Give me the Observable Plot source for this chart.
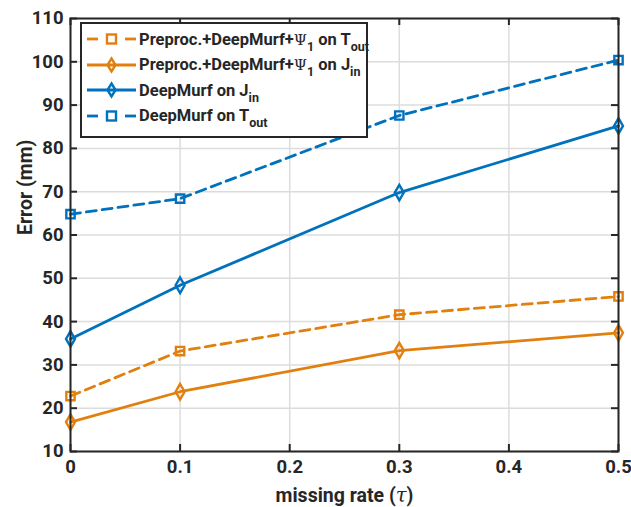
<!DOCTYPE html>
<html>
<head>
<meta charset="utf-8">
<script src="https://cdn.jsdelivr.net/npm/d3@7"></script>
<script src="https://cdn.jsdelivr.net/npm/@observablehq/plot@0.6"></script>
<style>
  html, body { margin: 0; padding: 0; background: #fff; }
  #wrap { position: relative; width: 631px; height: 507px; font-family: Roboto, "Liberation Sans", sans-serif; font-weight: 700; color: #262626; }
  #legend { position: absolute; left: 80px; top: 22px; width: 284px; height: 112px; border: 2px solid #262626; background: #fff; box-sizing: content-box; }
  .row { position: absolute; left: 3px; height: 24px; display: flex; align-items: center; font-size: 16.5px; white-space: nowrap; }
  .row svg { margin-right: 1px; }
  sub { font-size: 12.5px; vertical-align: -6px; line-height: 0; }
  .psi { font-weight: 400; font-family: "DejaVu Serif", serif; font-size: 15px; }
</style>
</head>
<body>
<div id="wrap"><div id="chart"></div><div id="legend"></div></div>
<script>
const rates = [0, 0.1, 0.3, 0.5];
const preprocTout = [22.8, 33.2, 41.6, 45.8];
const preprocJin = [16.8, 23.8, 33.3, 37.4];
const deepJin = [36.0, 48.4, 69.8, 85.2];
const deepTout = [64.8, 68.4, 87.6, 100.4];
const xTicks = [0, 0.1, 0.2, 0.3, 0.4, 0.5];
const xTickLabels = ["0", "0.1", "0.2", "0.3", "0.4", "0.5"];
const yTicks = [10, 20, 30, 40, 50, 60, 70, 80, 90, 100, 110];
const xLabel = "missing rate (τ)";
const yLabel = "Error (mm)";

const orange = "#E2800F";
const blue = "#0072BD";
const series = [
  {name: "preprocTout", values: preprocTout, color: orange, dash: "10,6", symbol: "square"},
  {name: "preprocJin", values: preprocJin, color: orange, dash: null, symbol: "diamond"},
  {name: "deepJin", values: deepJin, color: blue, dash: null, symbol: "diamond"},
  {name: "deepTout", values: deepTout, color: blue, dash: "10,6", symbol: "square"}
];

const dark = "#262626";
const font = "Roboto, 'Liberation Sans', sans-serif";
const tickLen = 7;
const W = 631, H = 507, mL = 70, mR = 13, mT = 18, mB = 56;
const xPerPx = 0.5 / (W - mL - mR);
const yPerPx = 100 / (H - mT - mB);

const marks = [
  Plot.gridX(xTicks, {stroke: "#dcdcdc", strokeOpacity: 1, strokeWidth: 1.5}),
  Plot.gridY(yTicks, {stroke: "#dcdcdc", strokeOpacity: 1, strokeWidth: 1.5}),
  Plot.ruleX(xTicks, {x: d => d, y1: 10, y2: 10 + tickLen * yPerPx, stroke: dark, strokeWidth: 2}),
  Plot.ruleX(xTicks, {x: d => d, y1: 110, y2: 110 - tickLen * yPerPx, stroke: dark, strokeWidth: 2}),
  Plot.ruleY(yTicks, {y: d => d, x1: 0, x2: tickLen * xPerPx, stroke: dark, strokeWidth: 2}),
  Plot.ruleY(yTicks, {y: d => d, x1: 0.5, x2: 0.5 - tickLen * xPerPx, stroke: dark, strokeWidth: 2}),
];
for (const s of series) {
  const data = rates.map((r, i) => ({x: r, y: s.values[i]}));
  marks.push(Plot.line(data, {x: "x", y: "y", stroke: s.color, strokeWidth: 2.8, strokeDasharray: s.dash}));
}
for (const s of series) {
  const data = rates.map((r, i) => ({x: r, y: s.values[i]}));
  marks.push(Plot.dot(data, {x: "x", y: "y", symbol: () => s.symbol, stroke: s.color, fill: "none", strokeWidth: 2.4, r: 4.7}));
}
marks.push(
  Plot.frame({stroke: dark, strokeWidth: 2}),
  Plot.text(xTicks, {x: d => d, text: (d, i) => xTickLabels[i], frameAnchor: "bottom", lineAnchor: "top", dy: 8, fontSize: 18.5, fontWeight: 700, fill: dark}),
  Plot.text(yTicks, {y: d => d, text: d => String(d), frameAnchor: "left", textAnchor: "end", dx: -7, fontSize: 18.5, fontWeight: 700, fill: dark}),
  Plot.text([xLabel], {text: d => d, frameAnchor: "bottom", lineAnchor: "middle", dy: 44, fontSize: 19.5, fontWeight: 700, fill: dark, className: "xlabel"}),
  Plot.text([yLabel], {text: d => d, frameAnchor: "left", dx: -45, rotate: -90, fontSize: 19.5, fontWeight: 700, fill: dark})
);

const chart = Plot.plot({
  width: W, height: H,
  marginLeft: mL, marginRight: mR, marginTop: mT, marginBottom: mB,
  x: {domain: [0, 0.5], axis: null},
  y: {domain: [10, 110], axis: null},
  style: {fontFamily: font, fontWeight: 700, background: "white", color: dark, overflow: "visible"},
  marks
});
document.getElementById("chart").appendChild(chart);

// italicize τ in x label (real text kept)
d3.select(chart).selectAll("text").each(function() {
  if (this.textContent === xLabel) {
    const t = d3.select(this);
    t.text(null);
    t.append("tspan").text("missing rate (");
    t.append("tspan").attr("font-style", "italic").attr("font-weight", 400).attr("font-family", "'DejaVu Serif', serif").text("τ");
    t.append("tspan").text(")");
  }
});

const legendEntries = [
  {s: series[0], html: 'Preproc.+DeepMurf+<span class="psi">Ψ</span><sub>1</sub> on T<sub>out</sub>'},
  {s: series[1], html: 'Preproc.+DeepMurf+<span class="psi">Ψ</span><sub>1</sub> on J<sub>in</sub>'},
  {s: series[2], html: 'DeepMurf on J<sub>in</sub>'},
  {s: series[3], html: 'DeepMurf on T<sub>out</sub>'}
];
const legend = document.getElementById("legend");
legendEntries.forEach((e, i) => {
  const row = document.createElement("div");
  row.className = "row";
  row.style.top = (3 + i * 25.6) + "px";
  const s = e.s;
  let sample;
  if (s.dash) {
    sample = `<line x1="2" y1="12" x2="13" y2="12" stroke="${s.color}" stroke-width="2.8"/>
              <line x1="40" y1="12" x2="51" y2="12" stroke="${s.color}" stroke-width="2.8"/>
              <rect x="22" y="7.5" width="9" height="9" fill="none" stroke="${s.color}" stroke-width="2.4"/>`;
  } else {
    sample = `<line x1="2" y1="12" x2="51" y2="12" stroke="${s.color}" stroke-width="2.8"/>
              <path d="M26.5,5.5 L30.5,12 L26.5,18.5 L22.5,12 Z" fill="none" stroke="${s.color}" stroke-width="2.4"/>`;
  }
  row.innerHTML = `<svg width="53" height="24">${sample}</svg><span>${e.html}</span>`;
  legend.appendChild(row);
});
</script>
</body>
</html>
